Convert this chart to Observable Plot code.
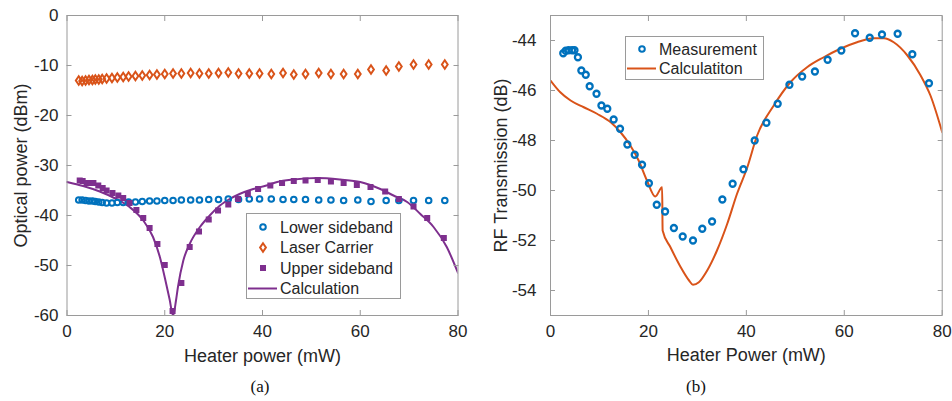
<!DOCTYPE html>
<html><head><meta charset="utf-8">
<script src="https://cdn.jsdelivr.net/npm/d3@7"></script>
<script src="https://cdn.jsdelivr.net/npm/@observablehq/plot@0.6"></script>
<style>
body{margin:0;background:#fff;}
#wrap{position:relative;width:952px;height:401px;display:flex;align-items:flex-start;overflow:hidden;}
#wrap > svg.plot{flex:none;}
.cap{position:absolute;top:377px;line-height:20px;font-family:"Liberation Serif","Times New Roman",serif;font-size:17px;color:#111;transform:translateX(-50%);}
.leg{position:absolute;}
</style></head><body><div id="wrap"></div>
<script>
// ---------- data (a) ----------
const xLeft = [2.4,3.1,3.8,4.5,5.2,5.8,6.5,7.2,8.1,9.2,10.3,11.5,12.6,14.0,15.4,16.9,18.4,20.0,21.7,23.4,25.3,27.1,29.0,31.0,33.0,35.1,37.3,39.4,41.8,44.2,46.4,48.8,51.5,54.0,56.6,59.5,62.2,65.3,67.9,70.9,74.0,77.3];
const lowerSideband = [-36.9,-36.9,-37.0,-37.1,-37.1,-37.2,-37.3,-37.4,-37.5,-37.5,-37.4,-37.4,-37.3,-37.3,-37.2,-37.1,-37.1,-37.0,-37.0,-36.9,-36.9,-36.9,-36.8,-36.8,-36.7,-36.8,-36.7,-36.7,-36.7,-36.8,-36.8,-36.8,-36.9,-36.9,-37.0,-36.9,-37.2,-37.0,-37.0,-37.0,-37.0,-37.0];
const laserCarrier = [-13.0,-13.1,-13.0,-12.9,-12.9,-12.8,-12.8,-12.7,-12.6,-12.5,-12.4,-12.3,-12.2,-12.1,-12.0,-11.9,-11.8,-11.7,-11.6,-11.6,-11.5,-11.6,-11.6,-11.5,-11.4,-11.6,-11.6,-11.6,-11.7,-11.5,-11.8,-11.7,-11.5,-11.7,-11.7,-11.7,-10.8,-11.0,-10.2,-9.8,-9.8,-9.8];
const xUpper = [2.6,3.2,4.0,4.8,5.4,6.4,7.3,8.1,9.3,10.5,11.5,12.8,14.2,15.6,16.9,18.5,20.0,21.6,23.4,25.1,27.0,29.0,30.9,33.0,35.0,37.0,39.1,41.6,44.0,46.4,48.8,51.3,54.0,56.6,59.3,62.1,65.1,67.9,70.9,73.7,77.1];
const upperSideband = [-33.0,-33.1,-33.5,-33.5,-33.5,-34.0,-34.5,-35.0,-35.5,-36.0,-36.5,-37.5,-38.9,-40.5,-42.5,-45.7,-49.9,-59.1,-53.5,-46.3,-43.2,-40.8,-39.0,-37.8,-36.7,-35.7,-34.7,-34.0,-33.5,-33.1,-33.0,-32.9,-33.2,-33.5,-33.9,-34.3,-35.2,-36.7,-38.2,-40.5,-44.5];
const xCalcA = [0,3.3,6.7,10.1,12.8,15.6,17.6,19.0,20.3,21.0,21.7,22.3,22.7,23.8,25.1,27.2,29.2,31.3,33.3,35.3,38.1,40.8,43.0,46.4,51.2,55.9,60.0,64.1,66.8,69.6,72.3,75.0,77.7,80];
const calcA = [-33.3,-34.1,-35.2,-36.7,-38.3,-41.0,-44.3,-48.3,-53.7,-56.8,-60.0,-57.0,-54.3,-49.0,-45.7,-42.3,-40.0,-38.0,-36.7,-35.7,-34.7,-34.0,-33.3,-32.8,-32.5,-32.8,-33.3,-34.7,-36.0,-37.3,-39.7,-42.3,-46.3,-51.5];
// ---------- data (b) ----------
const xMeas = [2.6,3.1,3.7,4.4,4.9,5.6,6.3,7.2,8.0,9.4,10.4,11.6,12.9,14.2,15.7,17.2,18.7,20.1,21.7,23.4,25.2,27.0,29.1,31.0,33.0,35.1,37.2,39.4,41.7,44.1,46.4,48.8,51.4,54.0,56.6,59.4,62.2,65.2,67.7,70.9,73.9,77.3];
const measurement = [-44.51,-44.41,-44.39,-44.39,-44.39,-44.67,-45.2,-45.37,-45.83,-46.13,-46.6,-46.73,-47.16,-47.53,-48.16,-48.57,-48.97,-49.71,-50.57,-50.84,-51.5,-51.84,-52.0,-51.53,-51.24,-50.36,-49.73,-49.15,-48.0,-47.29,-46.53,-45.77,-45.44,-45.24,-44.77,-44.4,-43.71,-43.89,-43.76,-43.73,-44.55,-45.71];
const xCalcB = [0,2.0,4.1,6.8,9.5,12.3,14.3,16.3,18.0,19.7,21.4,22.8,22.9,24.5,26.6,28.3,29.1,30.3,32.0,34.0,36.1,38.1,40.2,42.2,45.6,49.0,52.4,55.8,59.2,62.6,66.0,68.1,70.1,72.9,75.6,77.6,80];
const calcB = [-45.6,-46.07,-46.4,-46.67,-46.93,-47.27,-47.67,-48.2,-48.8,-49.6,-50.24,-49.87,-51.6,-52.27,-53.07,-53.6,-53.77,-53.67,-53.2,-52.4,-51.33,-50.13,-49.07,-47.8,-46.6,-45.67,-45.07,-44.67,-44.33,-44.07,-43.91,-43.91,-44.07,-44.6,-45.4,-46.2,-47.67];
// ---------- ticks / labels ----------
const xTicks = [0,20,40,60,80];
const yTicksA = [0,-10,-20,-30,-40,-50,-60];
const yTicksB = [-44,-46,-48,-50,-52,-54];
const legendA = ["Lower sideband","Laser Carrier","Upper sideband","Calculation"];
const legendB = ["Measurement","Calculatiton"];

const BLUE = "#0072BD", ORANGE = "#D95319", PURPLE = "#7E2F8E";
const FRAME = "#9a9a9a", TEXT = "#262626";
const FONT = '"Liberation Sans", Arial, Helvetica, sans-serif';

const tallDiamond = {draw(ctx, size){ const r = Math.sqrt(size/Math.PI); const h = r*1.05, w = r*0.72;
  ctx.moveTo(0,-h); ctx.lineTo(w,0); ctx.lineTo(0,h); ctx.lineTo(-w,0); ctx.closePath(); }};

const rows = (xs, ys) => xs.map((x,i) => ({x, y: ys[i]}));

function box(yTicks, padY) {
  return [
    Plot.axisX(xTicks, {anchor:"bottom", tickSize:-5, tickPadding:14, stroke:FRAME, fill:TEXT, fontSize:17, label:null}),
    Plot.axisX(xTicks, {anchor:"top", tickSize:-5, tickFormat:() => "", stroke:FRAME, label:null}),
    Plot.axisY(yTicks, {anchor:"left", tickSize:-5, tickPadding:padY, stroke:FRAME, fill:TEXT, fontSize:17, label:null, tickFormat: d => String(d)}),
    Plot.axisY(yTicks, {anchor:"right", tickSize:-5, tickFormat:() => "", stroke:FRAME, label:null}),
    Plot.frame({stroke:FRAME})
  ];
}

const plotA = Plot.plot({
  width:476, height:362, marginLeft:66.5, marginRight:18.5, marginTop:15, marginBottom:47,
  style:{fontFamily:FONT, fontSize:"16px", background:"#fff", overflow:"visible", height:"362px"},
  x:{domain:[0,80]}, y:{domain:[-60,0]},
  marks:[
    Plot.line(rows(xCalcA, calcA), {x:"x", y:"y", stroke:PURPLE, strokeWidth:2, curve:"monotone-x", clip:true}),
    Plot.dot(rows(xLeft, lowerSideband), {x:"x", y:"y", r:2.8, stroke:BLUE, strokeWidth:2, fill:"none"}),
    Plot.dot(rows(xLeft, laserCarrier), {x:"x", y:"y", r:4, symbol:tallDiamond, stroke:ORANGE, strokeWidth:2, fill:"none"}),
    Plot.dot(rows(xUpper, upperSideband), {x:"x", y:"y", r:3.4, symbol:"square", fill:PURPLE, stroke:"none"}),
    ...box(yTicksA, 13.5),
    Plot.text(["Heater power (mW)"], {frameAnchor:"bottom", dy:41, fontSize:18, fill:TEXT, lineAnchor:"middle", textAnchor:"middle"}),
    Plot.text(["Optical power (dBm)"], {frameAnchor:"left", dx:-46, rotate:-90, fontSize:18, fill:TEXT, lineAnchor:"middle", textAnchor:"middle"})
  ]
});

const plotB = Plot.plot({
  width:476, height:362, marginLeft:74, marginRight:10.3, marginTop:15, marginBottom:47,
  style:{fontFamily:FONT, fontSize:"16px", background:"#fff", overflow:"visible", height:"362px"},
  x:{domain:[0,80]}, y:{domain:[-55,-43]},
  marks:[
    Plot.line(rows(xCalcB, calcB), {x:"x", y:"y", stroke:ORANGE, strokeWidth:2, curve:"monotone-x", clip:true}),
    Plot.dot(rows(xMeas, measurement), {x:"x", y:"y", r:3, stroke:BLUE, strokeWidth:2.3, fill:"none"}),
    ...box(yTicksB, 19),
    Plot.text(["Heater Power (mW)"], {frameAnchor:"bottom", dy:40, fontSize:18, fill:TEXT, lineAnchor:"middle", textAnchor:"middle"}),
    Plot.text(["RF Transmission (dB)"], {frameAnchor:"left", dx:-49, rotate:-90, fontSize:18, fill:TEXT, lineAnchor:"middle", textAnchor:"middle"})
  ]
});

const wrap = document.getElementById("wrap");
wrap.appendChild(plotA); wrap.appendChild(plotB);

function caption(t, left){ const d = document.createElement("div"); d.className = "cap"; d.style.left = left + "px"; d.textContent = t; wrap.appendChild(d); }
caption("(a)", 260); caption("(b)", 696);

// legends (drawn as small SVG overlays)
function legend(items, kinds, left, top, w, h, rowH, firstY, markX, textX) {
  const svg = d3.create("svg").attr("class","leg").attr("width", w).attr("height", h)
    .style("left", left+"px").style("top", top+"px").style("font-family", FONT);
  svg.append("rect").attr("x",0.5).attr("y",0.5).attr("width",w-1).attr("height",h-1).attr("fill","#fff").attr("stroke",FRAME);
  items.forEach((t,i) => {
    const y = firstY + i*rowH, k = kinds[i];
    if (k === "circle") svg.append("circle").attr("cx",markX).attr("cy",y).attr("r",2.8).attr("fill","none").attr("stroke",BLUE).attr("stroke-width",2);
    if (k === "diamond") svg.append("path").attr("d",`M${markX},${y-4.2}L${markX+2.9},${y}L${markX},${y+4.2}L${markX-2.9},${y}Z`).attr("fill","none").attr("stroke",ORANGE).attr("stroke-width",2);
    if (k === "square") svg.append("rect").attr("x",markX-3).attr("y",y-3).attr("width",6).attr("height",6).attr("fill",PURPLE);
    if (k.startsWith("line")) svg.append("line").attr("x1",markX-15).attr("x2",markX+14).attr("y1",y).attr("y2",y).attr("stroke", k === "lineP" ? PURPLE : ORANGE).attr("stroke-width",2);
    svg.append("text").attr("x",textX).attr("y",y).attr("dy","0.35em").attr("font-size",16).attr("fill",TEXT).text(t);
  });
  wrap.appendChild(svg.node());
}
legend(legendA, ["circle","diamond","square","lineP"], 246, 213, 155, 86, 20.5, 14, 17, 34);
legend(legendB, ["circle","lineO"], 625, 36, 139, 44, 19.5, 13, 17, 34);
</script></body></html>
